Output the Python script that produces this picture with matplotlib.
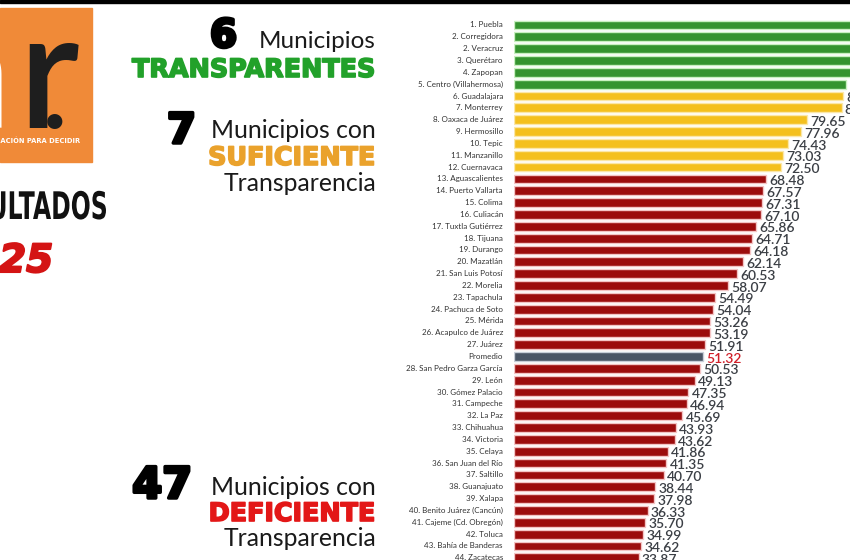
import matplotlib
matplotlib.use("Agg")
import matplotlib.pyplot as plt
import matplotlib.patheffects as pe
from matplotlib.patches import Rectangle, PathPatch
from matplotlib.textpath import TextPath
from matplotlib.font_manager import FontProperties
from matplotlib.transforms import Affine2D, IdentityTransform

# ranking data (top 5 bars run past the right edge of the picture, values estimated)
municipios = ["1. Puebla", "2. Corregidora", "2. Veracruz", "3. Querétaro", "4. Zapopan",
              "5. Centro (Villahermosa)", "6. Guadalajara", "7. Monterrey", "8. Oaxaca de Juárez",
              "9. Hermosillo", "10. Tepic", "11. Manzanillo", "12. Cuernavaca",
              "13. Aguascalientes", "14. Puerto Vallarta", "15. Colima", "16. Culiacán",
              "17. Tuxtla Gutiérrez", "18. Tijuana", "19. Durango", "20. Mazatlán",
              "21. San Luis Potosí", "22. Morelia", "23. Tapachula", "24. Pachuca de Soto",
              "25. Mérida", "26. Acapulco de Juárez", "27. Juárez", "Promedio",
              "28. San Pedro Garza García", "29. León", "30. Gómez Palacio", "31. Campeche",
              "32. La Paz", "33. Chihuahua", "34. Victoria", "35. Celaya", "36. San Juan del Río",
              "37. Saltillo", "38. Guanajuato", "39. Xalapa", "40. Benito Juárez (Cancún)",
              "41. Cajeme (Cd. Obregón)", "42. Toluca", "43. Bahía de Banderas", "44. Zacatecas"]
valores = [97.0, 96.0, 95.5, 94.5, 93.5, 90.2, 89.3, 89.0, 79.65, 77.96, 74.43, 73.03, 72.50,
           68.48, 67.57, 67.31, 67.10, 65.86, 64.71, 64.18, 62.14, 60.53, 58.07, 54.49, 54.04,
           53.26, 53.19, 51.91, 51.32, 50.53, 49.13, 47.35, 46.94, 45.69, 43.93, 43.62, 41.86,
           41.35, 40.70, 38.44, 37.98, 36.33, 35.70, 34.99, 34.62, 33.87]
# grupo: T = transparente, S = suficiente, D = deficiente, P = promedio
grupos = ["T"] * 6 + ["S"] * 7 + ["D"] * 15 + ["P"] + ["D"] * 17

colores = {"T": "#35942f", "S": "#f4c01e", "D": "#9c0c0c", "P": "#4a5565"}
bordes = {"T": "#c9f0c0", "S": "#fbe7a8", "D": "#f3c4c4", "P": "#c8ced8"}

W, H = 850, 560
fig = plt.figure(figsize=(W / 100, H / 100), dpi=100)
fig.patch.set_facecolor("white")


def px(x, y):
    return x / W, 1 - y / H


def gordo(color, lw=1.2):
    # thicken a bold face so it reads like a black weight
    return [pe.withStroke(linewidth=lw, foreground=color)]


# bar chart on the right
row_px = 11.84
first_y = 25
ax_top, ax_bot = 3, 560
ax = fig.add_axes([514 / W, 0, (W - 514) / W, (ax_bot - ax_top) / H])
ylo = (ax_top - first_y) / row_px
yhi = (ax_bot - first_y) / row_px
xmax = (W - 514) / 3.68
ypos = list(range(len(municipios)))
ax.barh(ypos, valores, height=0.74,
        color=[colores[g] for g in grupos],
        edgecolor=[bordes[g] for g in grupos], linewidth=1.0)
ax.set_xlim(0, xmax)
ax.set_ylim(yhi, ylo)
ax.axis("off")

for i, (nom, v, g) in enumerate(zip(municipios, valores, grupos)):
    ax.text(-3.0, i, nom, ha="right", va="center", fontsize=5.8,
            family="Lato", color="#333333", clip_on=False)
    # labels of the longest bars fall outside the cropped picture
    if v + 0.9 < 90.5:
        ax.text(v + 0.9, i + 0.18, f"{v:.2f}", ha="left", va="center", fontsize=10,
                family="Lato", fontweight="semibold",
                color="#d0202a" if g == "P" else "#3b3f45", clip_on=True)

# black band on top
fig.add_artist(Rectangle((0, 1 - 3 / H), 1, 3 / H, transform=fig.transFigure,
                         color="black", zorder=10))

# logo
fig.add_artist(Rectangle(px(0, 162), 92 / W, 154 / H, transform=fig.transFigure,
                         color="#f08a38", zorder=1))
fig.text(*px(-74, 128), "a", fontsize=120, fontweight="bold", color="white",
         ha="left", va="baseline", family="Lato", zorder=2)
fig.text(*px(18, 128), "r", fontsize=118, fontweight="semibold", color="#1e1e1e",
         ha="left", va="baseline", family="Lato", zorder=3)
fig.text(*px(43, 128), ".", fontsize=72, fontweight="bold", color="#1e1e1e",
         ha="left", va="baseline", family="Lato", zorder=4)
fig.text(*px(80, 143), "INFORMACIÓN PARA DECIDIR", fontsize=4.9, fontweight="bold",
         color="white", ha="right", va="baseline", zorder=4)

# "RESULTADOS" in a squeezed bold face, drawn as a path in pixel units
tp = TextPath((0, 0), "RESULTADOS", size=38,
              prop=FontProperties(family="DejaVu Sans", weight="bold"))
bb = tp.get_extents()
tr = Affine2D().translate(-bb.x1, 0).scale(0.62, 1).translate(106, H - 219)
fig.add_artist(PathPatch(tr.transform_path(tp), transform=IdentityTransform(),
                         color="#111111", lw=0))

fig.text(*px(53, 272), "2025", fontsize=28, fontweight="heavy", fontstyle="italic",
         color="#d41414", ha="right", va="baseline", family="DejaVu Sans",
         path_effects=gordo("#d41414", 1.5))

# group headers
rx = 376
fig.text(*px(237, 47), "6", fontsize=28, fontweight="heavy", ha="right",
         va="baseline", color="black", path_effects=gordo("black", 2.5))
fig.text(*px(rx, 48), "Municipios", fontsize=17.5, ha="right", va="baseline",
         family="Lato", color="#1a1a1a")
fig.text(*px(rx - 0.5, 77), "TRANSPARENTES", fontsize=18.3, fontweight="heavy",
         ha="right", va="baseline", color="#22a12a", path_effects=gordo("#22a12a"))

fig.text(*px(196, 143), "7", fontsize=30, fontweight="heavy", ha="right",
         va="baseline", color="black", path_effects=gordo("black", 2.5))
fig.text(*px(rx, 138), "Municipios con", fontsize=17.8, ha="right", va="baseline",
         family="Lato", color="#1a1a1a")
fig.text(*px(rx - 0.5, 165), "SUFICIENTE", fontsize=18.3, fontweight="heavy",
         ha="right", va="baseline", color="#eaa22c", path_effects=gordo("#eaa22c"))
fig.text(*px(rx, 191), "Transparencia", fontsize=17.8, ha="right", va="baseline",
         family="Lato", color="#1a1a1a")

fig.text(*px(192, 498), "47", fontsize=31, fontweight="heavy", ha="right",
         va="baseline", color="black", path_effects=gordo("black", 2.5))
fig.text(*px(rx, 495), "Municipios con", fontsize=17.8, ha="right", va="baseline",
         family="Lato", color="#1a1a1a")
fig.text(*px(rx - 0.5, 521), "DEFICIENTE", fontsize=18.3, fontweight="heavy",
         ha="right", va="baseline", color="#e31717", path_effects=gordo("#e31717"))
fig.text(*px(rx, 546), "Transparencia", fontsize=17.8, ha="right", va="baseline",
         family="Lato", color="#1a1a1a")

fig.savefig("out.png", dpi=100)
